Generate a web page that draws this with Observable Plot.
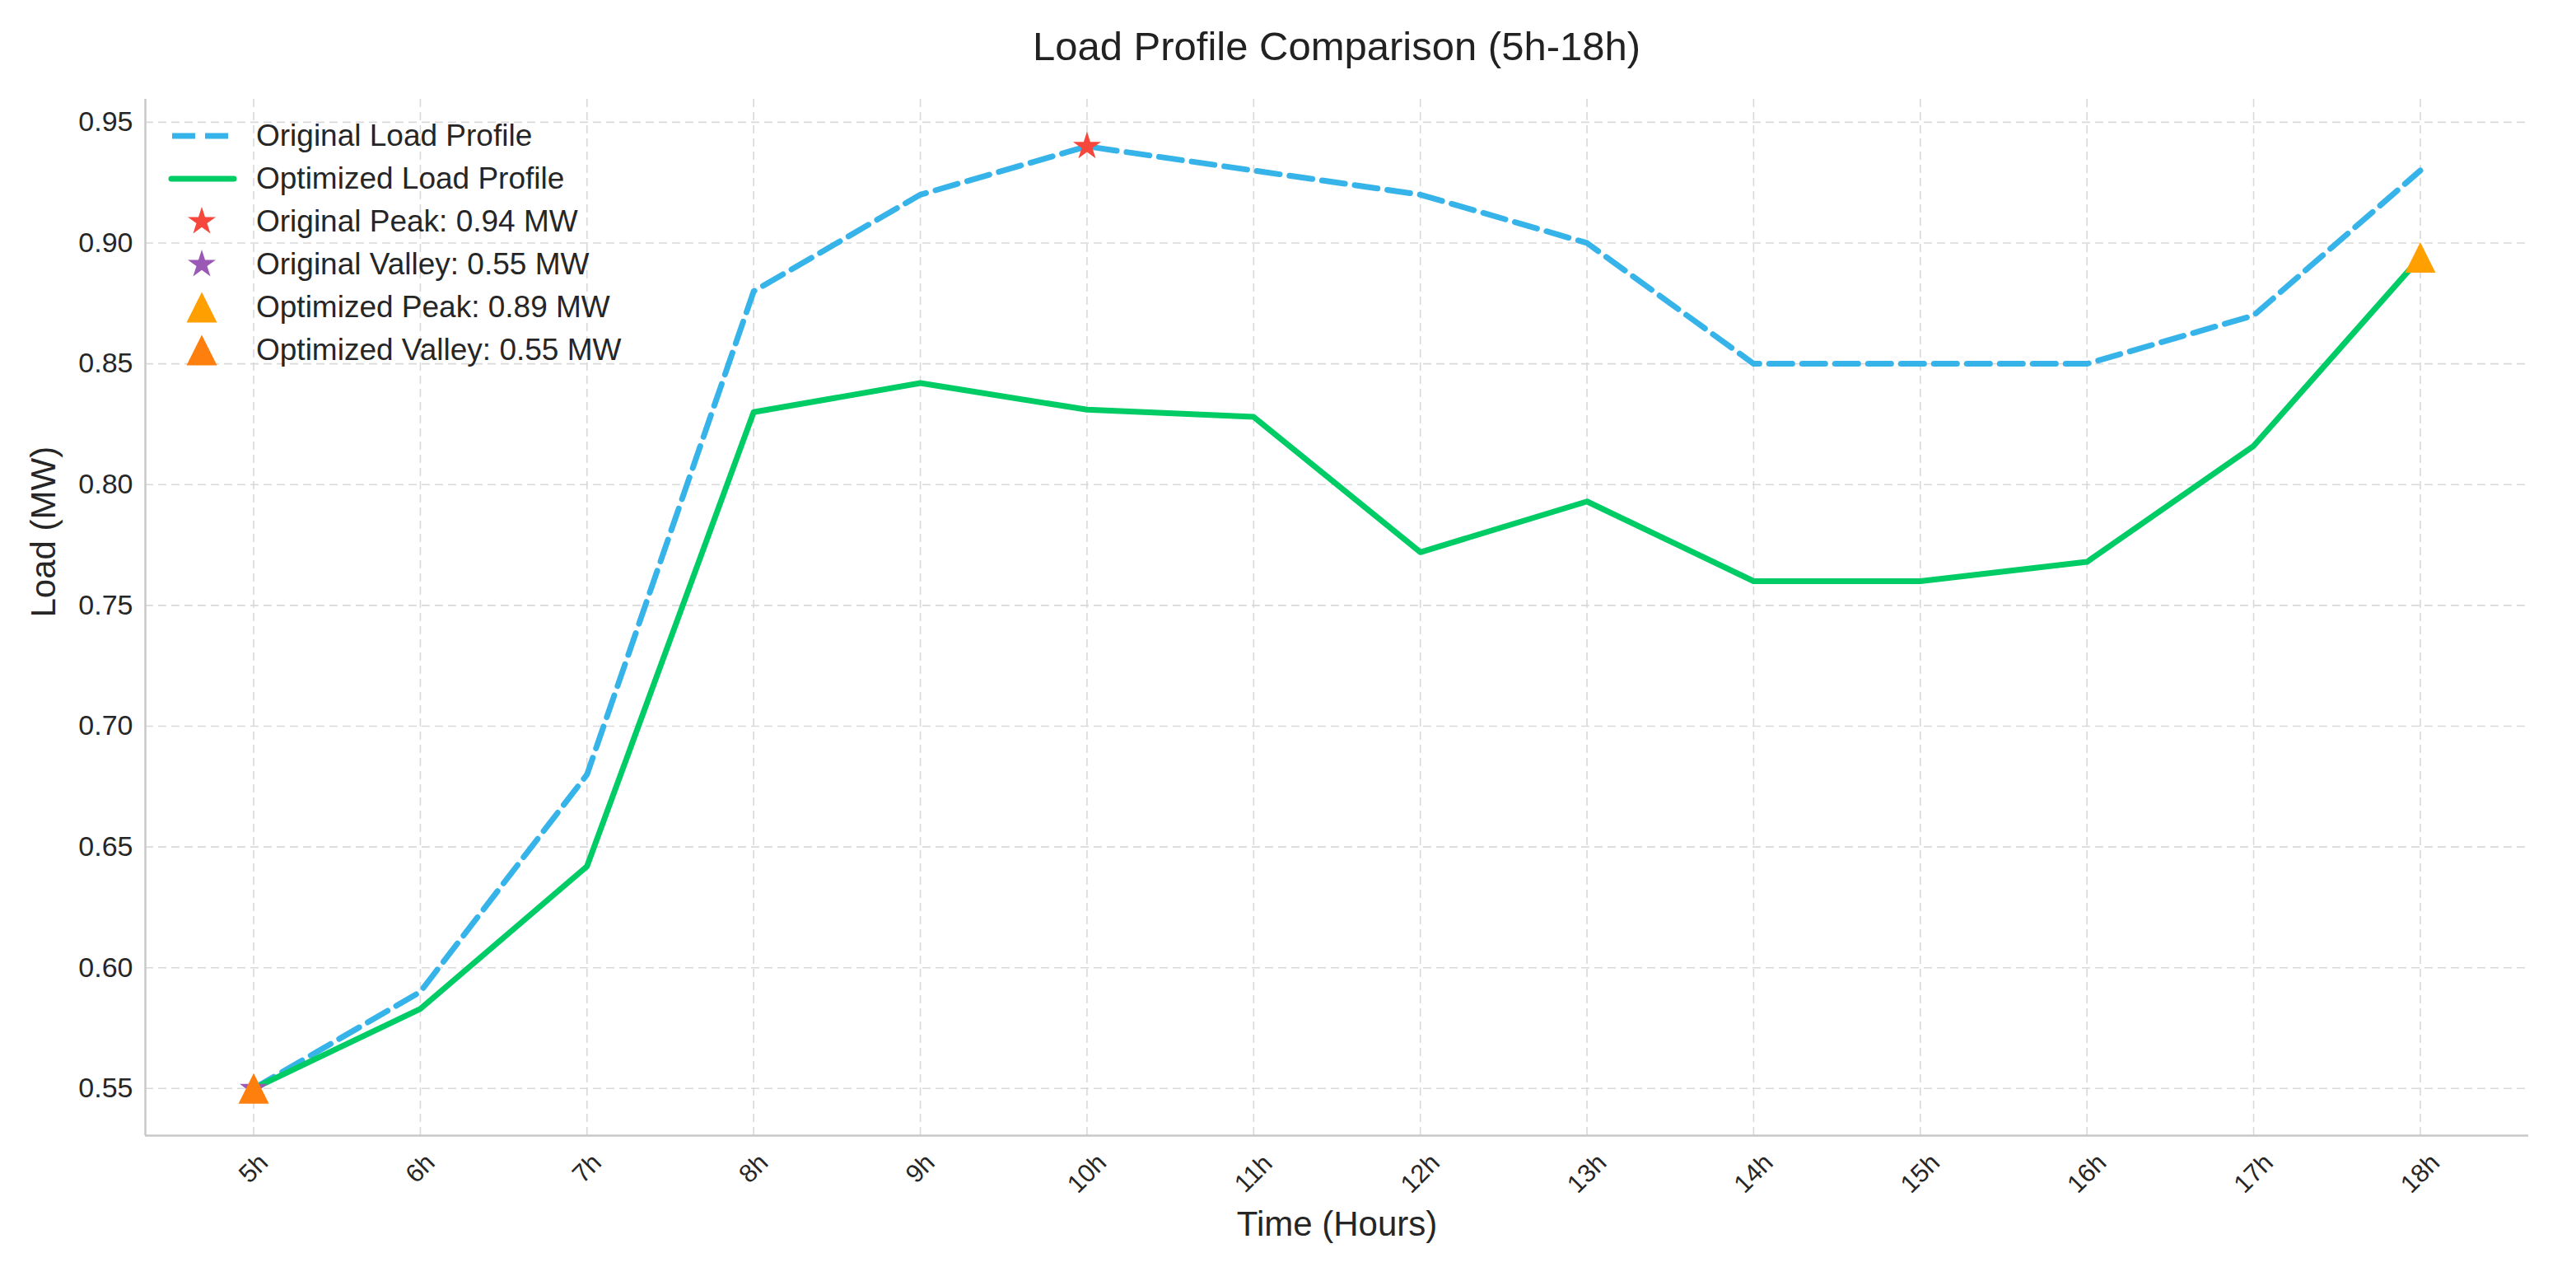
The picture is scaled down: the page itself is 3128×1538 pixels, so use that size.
<!DOCTYPE html>
<html>
<head>
<meta charset="utf-8">
<script src="https://cdn.jsdelivr.net/npm/d3@7"></script>
<script src="https://cdn.jsdelivr.net/npm/@observablehq/plot@0.6"></script>
<style>
  html, body { margin: 0; padding: 0; background: #fff; overflow: hidden; }
  #wrap { position: relative; width: 3128px; height: 1538px; font-family: "Liberation Sans", Arial, sans-serif; color: #262626; }
  #title { height: 108px; box-sizing: border-box; padding-top: 6px; margin-left: 176px; width: 2894px; text-align: center; font-size: 49px; line-height: 100px; color: #222; }
  #legend { position: absolute; left: 200px; top: 139px; }
  .row { display: flex; align-items: center; height: 52px; }
  .row svg { width: 100px; height: 52px; flex: none; }
  .row span { margin-left: 11px; font-size: 37px; white-space: nowrap; }
</style>
</head>
<body>
<div id="wrap">
  <div id="title">Load Profile Comparison (5h-18h)</div>
  <div id="chart"></div>
  <div id="legend"></div>
</div>
<script>
// ---- data ----
const hours = [5, 6, 7, 8, 9, 10, 11, 12, 13, 14, 15, 16, 17, 18];
const hourLabels = ["5h", "6h", "7h", "8h", "9h", "10h", "11h", "12h", "13h", "14h", "15h", "16h", "17h", "18h"];
const originalLoad = [0.55, 0.59, 0.68, 0.88, 0.92, 0.94, 0.93, 0.92, 0.90, 0.85, 0.85, 0.85, 0.87, 0.93];
const optimizedLoad = [0.55, 0.583, 0.642, 0.830, 0.842, 0.831, 0.828, 0.772, 0.793, 0.760, 0.760, 0.768, 0.816, 0.894];
const yTicks = [0.55, 0.60, 0.65, 0.70, 0.75, 0.80, 0.85, 0.90, 0.95];
const seriesNames = ["Original Load Profile", "Optimized Load Profile"];

// ---- styles ----
const C_ORIG = "#36b4ea", C_OPT = "#00cc66";
const C_OPEAK = "#f5473b", C_OVALLEY = "#9b59b6", C_PPEAK = "#ff9f00", C_PVALLEY = "#ff7f0e";
const GRID = "#d9d9d9", SPINE = "#c8c8c8";

const rows = hours.map((h, i) => ({hour: h, label: hourLabels[i], original: originalLoad[i], optimized: optimizedLoad[i]}));

const iOP = d3.maxIndex(originalLoad), iOV = d3.minIndex(originalLoad);
const iPP = d3.maxIndex(optimizedLoad), iPV = d3.minIndex(optimizedLoad);
const highlights = [
  {key: "op", hour: hours[iOP], value: originalLoad[iOP], label: `Original Peak: ${originalLoad[iOP].toFixed(2)} MW`, symbol: "star", color: C_OPEAK},
  {key: "ov", hour: hours[iOV], value: originalLoad[iOV], label: `Original Valley: ${originalLoad[iOV].toFixed(2)} MW`, symbol: "star", color: C_OVALLEY},
  {key: "pp", hour: hours[iPP], value: optimizedLoad[iPP], label: `Optimized Peak: ${optimizedLoad[iPP].toFixed(2)} MW`, symbol: "tri", color: C_PPEAK},
  {key: "pv", hour: hours[iPV], value: optimizedLoad[iPV], label: `Optimized Valley: ${optimizedLoad[iPV].toFixed(2)} MW`, symbol: "tri", color: C_PVALLEY}
];

// matplotlib-like '^' marker (width == height)
const mplTriangle = {
  draw(ctx, size) {
    const r = Math.sqrt(size / Math.PI);
    ctx.moveTo(0, -r); ctx.lineTo(r, r); ctx.lineTo(-r, r); ctx.closePath();
  }
};
const STAR_R = 10.7, TRI_R = 18.5;

const xDomain = [hours[0] - 0.65, hours[hours.length - 1] + 0.65];
const yPad = (d3.max(originalLoad) - d3.min(originalLoad)) * 0.05;
const yDomain = [d3.min(originalLoad) - yPad, 0.95 + 0.0095];

const fsX = 31;
const byLen = d3.groups(rows, d => d.label.length);
const xTickMarks = byLen.map(([n, arr]) => {
  const w = 0.556 * n * fsX, h = 0.72 * fsX;
  return Plot.text(arr, {x: "hour", text: "label", frameAnchor: "bottom", dy: 20 + (w + h) / (2 * Math.SQRT2),
    rotate: -45, textAnchor: "middle", lineAnchor: "middle", fontSize: fsX, fill: "#262626"});
});

const chart = Plot.plot({
  width: 3128,
  height: 1430,
  marginTop: 12,
  marginLeft: 176,
  marginRight: 58,
  marginBottom: 160,
  style: {fontFamily: "'Liberation Sans', Arial, sans-serif", background: "white", color: "#262626", overflow: "visible"},
  x: {type: "linear", domain: xDomain, axis: null},
  y: {type: "linear", domain: yDomain},
  marks: [
    Plot.ruleY(yTicks, {stroke: GRID, strokeWidth: 1.6, strokeDasharray: "10,6"}),
    Plot.ruleX(hours, {stroke: GRID, strokeWidth: 1.6, strokeDasharray: "10,6"}),
    Plot.ruleX([xDomain[0]], {stroke: SPINE, strokeWidth: 2.5}),
    Plot.ruleY([yDomain[0]], {stroke: SPINE, strokeWidth: 2.5}),
    Plot.axisY({ticks: yTicks, tickFormat: d => d.toFixed(2), tickSize: 0, tickPadding: 15, fontSize: 34, label: null}),
    ...xTickMarks,
    Plot.text(["Time (Hours)"], {frameAnchor: "bottom", dy: 108, fontSize: 42, fill: "#262626", lineAnchor: "middle"}),
    Plot.text(["Load (MW)"], {frameAnchor: "left", dx: -123, rotate: -90, fontSize: 42, fill: "#262626", lineAnchor: "middle"}),
    Plot.line(rows, {x: "hour", y: "original", stroke: C_ORIG, strokeWidth: 7, strokeDasharray: "28,12", strokeLinejoin: "round"}),
    Plot.line(rows, {x: "hour", y: "optimized", stroke: C_OPT, strokeWidth: 7, strokeLinejoin: "round"}),
    Plot.dot(highlights.filter(d => d.symbol === "star"), {x: "hour", y: "value", symbol: "star", r: STAR_R, fill: "color", stroke: "none"}),
    Plot.dot(highlights.filter(d => d.symbol === "tri"), {x: "hour", y: "value", symbol: mplTriangle, r: TRI_R, fill: "color", stroke: "none"})
  ]
});
document.getElementById("chart").appendChild(chart);

// ---- legend ----
const legend = d3.select("#legend");
const starPath = d3.symbol(d3.symbolStar, Math.PI * STAR_R * STAR_R)();
const triPath = d3.symbol(mplTriangle, Math.PI * TRI_R * TRI_R)();
const entries = [
  {label: seriesNames[0], kind: "dash", color: C_ORIG},
  {label: seriesNames[1], kind: "solid", color: C_OPT},
  ...highlights.map(d => ({label: d.label, kind: d.symbol, color: d.color}))
];
for (const e of entries) {
  const row = legend.append("div").attr("class", "row");
  const svg = row.append("svg").attr("viewBox", "0 0 100 52");
  if (e.kind === "dash") {
    svg.append("line").attr("x1", 9).attr("x2", 79).attr("y1", 26).attr("y2", 26)
      .attr("stroke", e.color).attr("stroke-width", 7).attr("stroke-dasharray", "28,12");
  } else if (e.kind === "solid") {
    svg.append("line").attr("x1", 8).attr("x2", 84).attr("y1", 26).attr("y2", 26)
      .attr("stroke", e.color).attr("stroke-width", 7).attr("stroke-linecap", "round");
  } else {
    svg.append("path").attr("d", e.kind === "star" ? starPath : triPath)
      .attr("transform", "translate(45,26)").attr("fill", e.color);
  }
  row.append("span").text(e.label);
}
</script>
</body>
</html>
